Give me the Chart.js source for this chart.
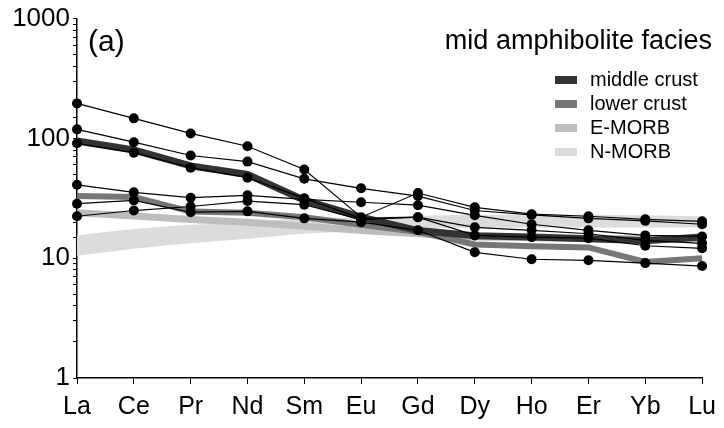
<!DOCTYPE html>
<html>
<head>
<meta charset="utf-8">
<script src="https://cdn.jsdelivr.net/npm/chart.js@4.4.1/dist/chart.umd.min.js"></script>
<style>
  body { margin: 0; background: #fff; }
  #wrap { width: 724px; height: 428px; }
</style>
</head>
<body>
<div id="wrap"><canvas id="ree" width="724" height="428"></canvas></div>
<script>
// REE elements along the x axis
const elements = ['La', 'Ce', 'Pr', 'Nd', 'Sm', 'Eu', 'Gd', 'Dy', 'Ho', 'Er', 'Yb', 'Lu'];
const yTickLabels = [1, 10, 100, 1000];

// individual samples (chondrite normalised)
const sample1 = [196, 147, 110, 86, 55, 22, 35, 26.6, 23.3, 22.4, 21.1, 20.3];
const sample2 = [119, 93, 72, 64, 46, 38.3, 33, 25, 23, 21.5, 20.5, 19.2];
const sample3 = [91, 76, 57, 47, 31.6, 21.5, 22, 18.1, 17.1, 16, 14.1, 13.3];
const sample4 = [41, 35.5, 32, 33.5, 31, 29.3, 27.7, 22.8, 19.2, 17.1, 15.5, 15.2];
const sample5 = [28.5, 30.4, 24.2, 24.6, 21.5, 20, 17.1, 11.2, 9.8, 9.6, 9.1, 8.6];
const sample6 = [22.4, 25, 27, 30, 28, 21, 22, 15.5, 15, 14.7, 12.7, 12.1];

// reference compositions
const middleCrust = [95, 80, 59, 50, 30.5, 22, 17, 15.4, 15, 14.5, 14, 15];
const lowerCrust = [33, 32.5, 24.5, 24, 22, 19, 16.5, 13, 12.6, 12.3, 9.3, 10];
const eMorb = [24, 22.5, 21, 20, 18.5, 17, 16, 15, 14.8, 14.6, 14.5, 14.5];
const nMorbUpper = [15.5, 17.5, 19, 20, 21.5, 22, 22.5, 23, 23, 23, 22.8, 22.3];
const nMorbLower = [10.5, 12, 13.3, 14.5, 16, 16.8, 17.5, 18, 18, 18, 18, 18];

const legendItems = [
    { label: 'middle crust', color: '#333333' },
    { label: 'lower crust', color: '#777777' },
    { label: 'E-MORB', color: '#bdbdbd' },
    { label: 'N-MORB', color: '#dcdcdc' }
];

const FONT = 'Liberation Sans, Arial, sans-serif';

function sampleSet(data) {
    return {
        data: data,
        borderColor: '#000',
        borderWidth: 1.2,
        pointRadius: 5,
        pointBackgroundColor: '#000',
        pointBorderWidth: 0,
        order: 0,
        fill: false
    };
}

function bandLine(data, color, width, order) {
    return {
        data: data,
        borderColor: color,
        borderWidth: width,
        pointRadius: 0,
        order: order,
        fill: false
    };
}

const datasets = [
    sampleSet(sample1), sampleSet(sample2), sampleSet(sample3),
    sampleSet(sample4), sampleSet(sample5), sampleSet(sample6),
    bandLine(middleCrust, '#333333', 7, 1),
    bandLine(lowerCrust, '#777777', 6, 2),
    bandLine(eMorb, '#bdbdbd', 7, 3),
    {
        data: nMorbUpper, borderWidth: 0, pointRadius: 0, order: 4,
        backgroundColor: '#dcdcdc', fill: { target: 10 },
        cubicInterpolationMode: 'monotone'
    },
    {
        data: nMorbLower, borderWidth: 0, pointRadius: 0, order: 5,
        fill: false, cubicInterpolationMode: 'monotone'
    }
];

// text labels and legend drawn on top of the plot
const annotations = {
    id: 'annotations',
    afterDraw(chart) {
        const ctx = chart.ctx;
        ctx.save();
        ctx.fillStyle = '#000';
        ctx.textBaseline = 'middle';
        ctx.font = '30px ' + FONT;
        ctx.textAlign = 'left';
        ctx.fillText('(a)', 88, 43);
        ctx.font = '27px ' + FONT;
        ctx.textAlign = 'right';
        ctx.fillText('mid amphibolite facies', 712, 42);

        ctx.font = '20px ' + FONT;
        ctx.textAlign = 'left';
        legendItems.forEach((item, i) => {
            const y = 80 + i * 24;
            ctx.fillStyle = item.color;
            ctx.fillRect(555, y - 4, 22, 8);
            ctx.fillStyle = '#000';
            ctx.fillText(item.label, 590, y);
        });
        ctx.restore();
    }
};

new Chart(document.getElementById('ree'), {
    type: 'line',
    data: { labels: elements, datasets: datasets },
    options: {
        responsive: false,
        animation: false,
        devicePixelRatio: 1,
        layout: { padding: { top: 18, right: 20, left: 0, bottom: 0 } },
        plugins: {
            legend: { display: false },
            tooltip: { enabled: false },
            filler: { drawTime: 'beforeDatasetsDraw' }
        },
        scales: {
            x: {
                offset: false,
                grid: { drawOnChartArea: false, color: '#000', tickLength: 6, tickWidth: 1 },
                border: { color: '#000', width: 1.5 },
                ticks: {
                    color: '#000', font: { size: 25, family: FONT },
                    padding: 8, autoSkip: false, maxRotation: 0
                },
                afterFit(scale) { scale.height = 50; }
            },
            y: {
                type: 'logarithmic',
                min: 1,
                max: 1000,
                grid: { drawOnChartArea: false, color: '#000', tickLength: 4, tickWidth: 1 },
                border: { color: '#000', width: 1.5 },
                ticks: {
                    color: '#000', font: { size: 26, family: FONT },
                    padding: 3, autoSkip: false,
                    callback: (v) => yTickLabels.includes(Math.round(v)) && Math.abs(Math.log10(v) % 1) < 1e-9 ? String(Math.round(v)) : ''
                },
                afterFit(scale) { scale.width = 77; }
            }
        }
    },
    plugins: [annotations]
});
</script>
</body>
</html>
